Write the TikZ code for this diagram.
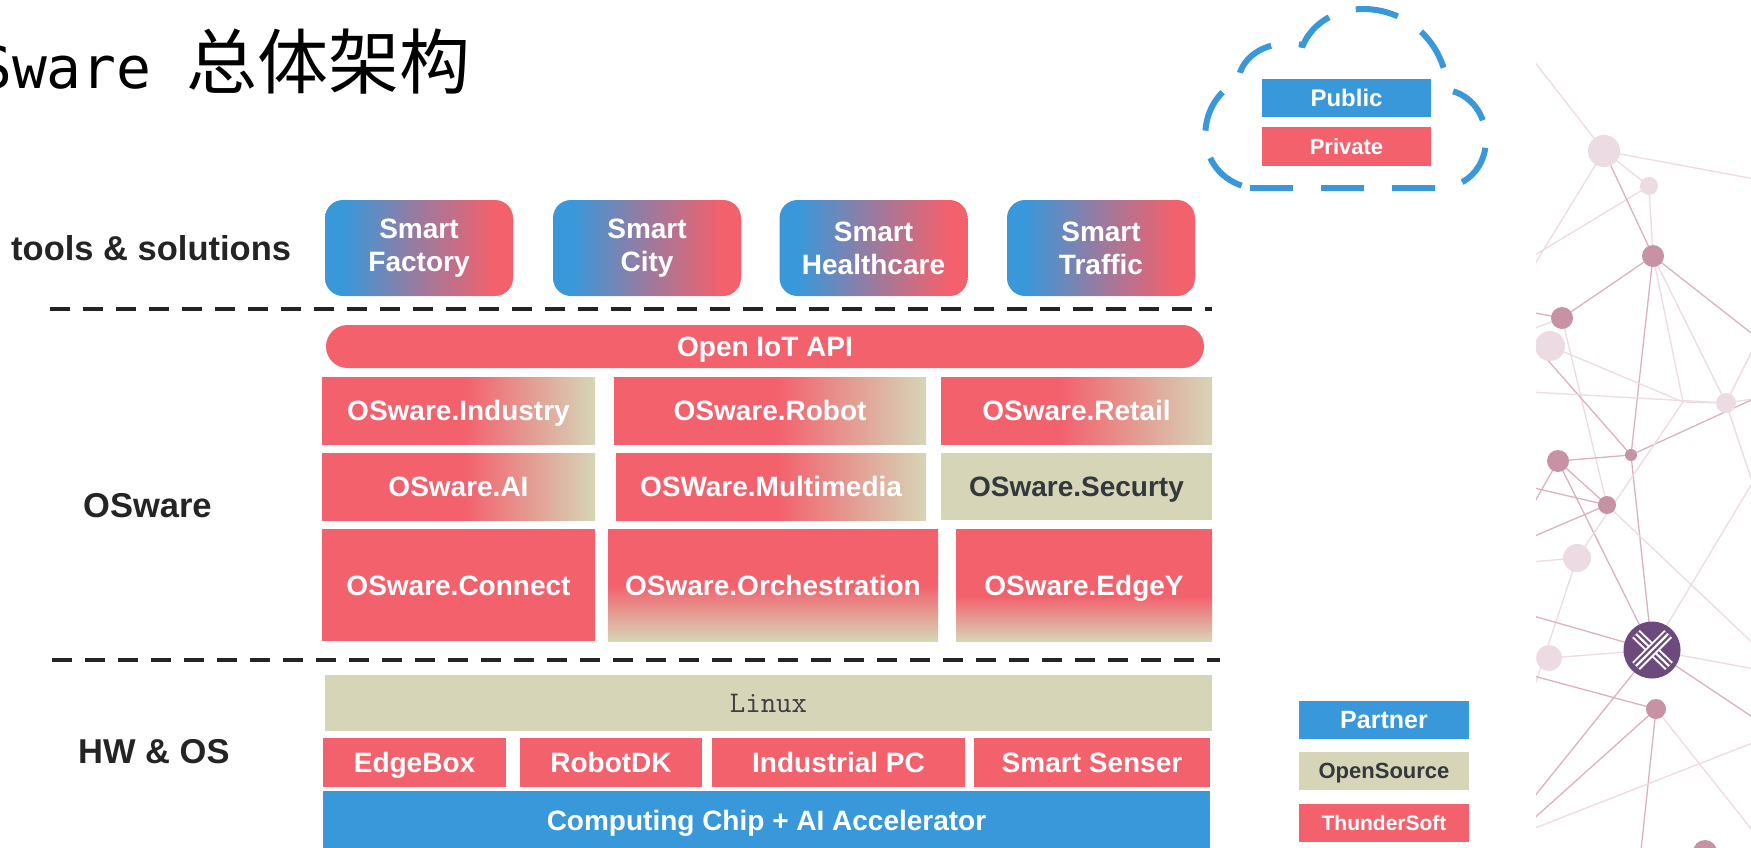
\documentclass[tikz,border=0pt]{standalone}
\usepackage{fontspec}
\setmainfont{Liberation Sans}
\newfontfamily\cjkfont{Noto Sans CJK SC}
\newfontfamily\titlemono{DejaVu Sans Mono}

\definecolor{tsred}{RGB}{243,97,109}
\definecolor{ptblue}{RGB}{56,152,218}
\definecolor{osbeige}{RGB}{214,213,183}
\definecolor{gradmid}{RGB}{155,122,158}
\definecolor{darktext}{RGB}{36,36,36}
\definecolor{greytext}{RGB}{50,56,60}
\definecolor{linuxtext}{RGB}{62,62,62}
\definecolor{nodelight}{RGB}{236,219,226}
\definecolor{nodemid}{RGB}{199,146,164}
\definecolor{linklight}{RGB}{238,218,226}
\definecolor{linkdark}{RGB}{216,178,193}
\definecolor{xpurple}{RGB}{108,74,126}

% gradients: blue -> red for the solution tiles, red -> beige fades for mixed modules
\pgfdeclarehorizontalshading{smartgrad}{100bp}{color(0bp)=(ptblue); color(30bp)=(ptblue); color(50bp)=(gradmid); color(70bp)=(tsred); color(100bp)=(tsred)}
\pgfdeclarehorizontalshading{fadeH}{100bp}{color(0bp)=(tsred); color(51bp)=(tsred); color(75bp)=(osbeige); color(100bp)=(osbeige)}
\pgfdeclarehorizontalshading{fadeHr}{100bp}{color(0bp)=(tsred); color(47bp)=(tsred); color(75bp)=(osbeige); color(100bp)=(osbeige)}
\pgfdeclareverticalshading{fadeVa}{100bp}{color(0bp)=(osbeige); color(25bp)=(osbeige); color(50bp)=(tsred); color(100bp)=(tsred)}
\pgfdeclareverticalshading{fadeVb}{100bp}{color(0bp)=(osbeige); color(25bp)=(osbeige); color(45bp)=(tsred); color(100bp)=(tsred)}

\tikzset{
  boxfont/.style={font=\fontsize{28}{30}\selectfont\bfseries},
  modbox/.style={rectangle, inner sep=0pt, text=white, boxfont, text height=20pt, text depth=0pt},
  redbox/.style={modbox, fill=tsred},
  fadebox/.style={modbox, shade, shading=#1},
  beigebox/.style={modbox, fill=osbeige, text=greytext},
  smartbox/.style={rectangle, rounded corners=18pt, shade, shading=smartgrad,
    minimum width=188pt, minimum height=96pt, inner sep=0pt, align=center,
    text=white, font=\fontsize{28}{33}\selectfont\bfseries},
  layerlabel/.style={anchor=base west, inner sep=0pt, text=darktext,
    font=\fontsize{34.5}{38}\selectfont\bfseries},
  sepline/.style={draw=darktext, line width=4.5pt, dash pattern=on 20pt off 13pt},
  cloudline/.style={draw=ptblue, line width=6pt, dash pattern=on 43pt off 28pt},
  legbox/.style={rectangle, inner sep=0pt, minimum width=170pt, minimum height=38pt, text depth=0pt},
  link/.style={draw=linklight, line width=1.3pt},
  linkd/.style={draw=linkdark, line width=1.3pt},
  dotl/.style={fill=nodelight, draw=none},
  dotm/.style={fill=nodemid, draw=none}
}

\begin{document}
\begin{tikzpicture}[x=1pt,y=-1pt]
\useasboundingbox (0,0) rectangle (1751,847);
\fill[white] (0,0) rectangle (1751,847);

% title
\node[anchor=base west, inner sep=0pt] (title) at (-58,88)
  {{\titlemono\fontsize{58}{70}\selectfont OSware\ }{\cjkfont\fontsize{71}{80}\selectfont 总体架构}};

% layer labels
\node[layerlabel] (lbtools) at (11,260) {tools \& solutions};
\node[layerlabel] (lbos) at (83,517) {OSware};
\node[layerlabel] (lbhw) at (78,763) {HW \& OS};

% solution tiles
\node[smartbox] (sfac) at (419,248) {Smart\\Factory};
\node[smartbox] (scity) at (647,248) {Smart\\City};
\node[smartbox] (sheal) at (873.5,248) {Smart\\Healthcare};
\node[smartbox] (straf) at (1101,248) {Smart\\Traffic};

% separators
\coordinate (sepAa) at (50,309);
\coordinate (sepAb) at (1212,309);
\coordinate (sepBa) at (52,660);
\coordinate (sepBb) at (1220,660);
\draw[sepline] (sepAa) -- (sepAb);
\draw[sepline] (sepBa) -- (sepBb);

% OSware layer
\node[modbox, fill=tsred, rounded corners=21.5pt, minimum width=878pt, minimum height=43pt] (api) at (765,346.5) {Open IoT API};

\node[fadebox=fadeH, minimum width=273pt, minimum height=67pt] (ind) at (458.5,410.5) {OSware.Industry};
\node[fadebox=fadeH, minimum width=312pt, minimum height=67pt] (rob) at (770,410.5) {OSware.Robot};
\node[fadebox=fadeHr, minimum width=271pt, minimum height=67pt] (ret) at (1076.5,410.5) {OSware.Retail};

\node[fadebox=fadeH, minimum width=273pt, minimum height=67pt] (ai) at (458.5,486.5) {OSware.AI};
\node[fadebox=fadeH, minimum width=310pt, minimum height=67pt] (mm) at (771,486.5) {OSWare.Multimedia};
\node[beigebox, minimum width=271pt, minimum height=67pt] (sec) at (1076.5,486.5) {OSware.Securty};

\node[redbox, minimum width=273pt, minimum height=112pt] (con) at (458.5,585) {OSware.Connect};
\node[fadebox=fadeVa, minimum width=330pt, minimum height=112pt] (orc) at (773,585) {OSware.Orchestration};
\node[fadebox=fadeVb, minimum width=256pt, minimum height=112pt] (edge) at (1084,585) {OSware.EdgeY};

% HW & OS layer
\node[beigebox, minimum width=887pt, minimum height=56pt, text=linuxtext,
  font=\fontsize{30}{32}\selectfont\ttfamily, text height=18pt] (linux) at (768.5,703) {Linux};
\node[redbox, minimum width=183pt, minimum height=49pt] (ebox) at (414.5,762.5) {EdgeBox};
\node[redbox, minimum width=182pt, minimum height=49pt] (rdk) at (611,762.5) {RobotDK};
\node[redbox, minimum width=253pt, minimum height=49pt] (ipc) at (838.5,762.5) {Industrial PC};
\node[redbox, minimum width=236pt, minimum height=49pt] (sens) at (1092,762.5) {Smart Senser};
\node[modbox, fill=ptblue, minimum width=887pt, minimum height=58pt] (chip) at (766.5,820) {Computing Chip + AI Accelerator};

% legend
\node[legbox, fill=ptblue, text=white, text height=18pt, font=\fontsize{25}{28}\selectfont\bfseries] (lgp) at (1384,719.5) {Partner};
\node[legbox, fill=osbeige, text=greytext, text height=16pt, font=\fontsize{22}{26}\selectfont\bfseries] (lgo) at (1384,770.5) {OpenSource};
\node[legbox, fill=tsred, text=white, text height=15pt, font=\fontsize{21}{24}\selectfont\bfseries] (lgt) at (1384,822.5) {ThunderSoft};

% cloud with deployment options
\draw[cloudline] (1250,188) -- (1440,188)
  .. controls (1500,185) and (1500,100) .. (1448,90)
  .. controls (1440,0) and (1330,-15) .. (1303,45)
  .. controls (1270,38) and (1240,55) .. (1238,82)
  .. controls (1195,100) and (1190,175) .. (1250,188);
\node[legbox, minimum width=169pt, fill=ptblue, text=white, text height=17pt, font=\fontsize{24}{26}\selectfont\bfseries] (pub) at (1346.5,98) {Public};
\node[legbox, minimum width=169pt, minimum height=39pt, fill=tsred, text=white, text height=16pt, font=\fontsize{22}{26}\selectfont\bfseries] (priv) at (1346.5,146.5) {Private};

% decorative network
\begin{scope}
\clip (1536,0) rectangle (1751,847);
\coordinate (n1) at (1604,151);
\coordinate (n2) at (1649,186);
\coordinate (n3) at (1653,256);
\coordinate (n4) at (1562,318);
\coordinate (n5) at (1550,346);
\coordinate (n6) at (1726,403);
\coordinate (n7) at (1558,461);
\coordinate (n8) at (1631,455);
\coordinate (n9) at (1607,505);
\coordinate (n10) at (1577,558);
\coordinate (n11) at (1549,658);
\coordinate (nx) at (1652,650);
\coordinate (n12) at (1656,709);
\coordinate (n13) at (1705,852);
\coordinate (j1) at (1683,402);

\draw[link] (1530,56) -- (n1) -- (1760,180);
\draw[link] (n1) -- (n2) -- (1530,258);
\draw[link] (n1) -- (1530,272);
\draw[linkd] (n1) -- (n3);
\draw[link] (n2) -- (n3);
\draw[linkd] (n3) -- (n4) -- (1530,312);
\draw[linkd] (n3) -- (n8);
\draw[linkd] (n3) -- (1760,340);
\draw[link] (n3) -- (j1);
\draw[link] (n3) -- (n6);
\draw[link] (n4) -- (1530,330);
\draw[link] (n4) -- (n9);
\draw[linkd] (1530,340) -- (n8);
\draw[link] (n5) -- (j1) -- (n6);
\draw[link] (1530,392) -- (n6) -- (1760,398);
\draw[linkd] (n8) -- (1760,396);
\draw[linkd] (n8) -- (n7);
\draw[linkd] (n8) -- (nx);
\draw[linkd] (n7) -- (n9);
\draw[linkd] (n7) -- (nx);
\draw[linkd] (n7) -- (1530,510);
\draw[linkd] (1530,487) -- (n9) -- (1530,538);
\draw[link] (n9) -- (1760,650);
\draw[link] (n10) -- (j1);
\draw[link] (n10) -- (1530,562);
\draw[link] (n10) -- (1530,700);
\draw[linkd] (1530,615) -- (nx);
\draw[link] (nx) -- (1760,470);
\draw[link] (nx) -- (1760,670);
\draw[linkd] (nx) -- (1760,722);
\draw[linkd] (nx) -- (1530,802);
\draw[link] (n11) -- (nx);
\draw[linkd] (1530,675) -- (n12) -- (1530,822);
\draw[linkd] (n12) -- (1640,860);
\draw[link] (n12) -- (1760,840);
\draw[link] (1530,830) -- (1760,740);
\draw[link] (n6) -- (1760,335);
\draw[link] (n6) -- (1760,505);

\fill[dotl] (n1) circle (16);
\fill[dotl] (n2) circle (9);
\fill[dotm] (n3) circle (11);
\fill[dotm] (n4) circle (11);
\fill[dotl] (n5) circle (15);
\fill[dotl] (n6) circle (10);
\fill[dotm] (n7) circle (11);
\fill[dotm] (n8) circle (6);
\fill[dotm] (n9) circle (9);
\fill[dotl] (n10) circle (14);
\fill[dotl] (n11) circle (13);
\fill[dotm] (n12) circle (10);
\fill[dotm] (n13) circle (12);

% logo disc with striped X
\fill[xpurple] (nx) circle (28.5);
\foreach \a/\b in {{(1636,634)}/{(1669,666)}, {(1668,634)}/{(1636,666)}} {
  \draw[white, line width=11pt] \a -- \b;
  \draw[xpurple, line width=7pt] \a -- \b;
  \draw[white, line width=2.2pt] \a -- \b;
}
\end{scope}
\end{tikzpicture}
\end{document}
